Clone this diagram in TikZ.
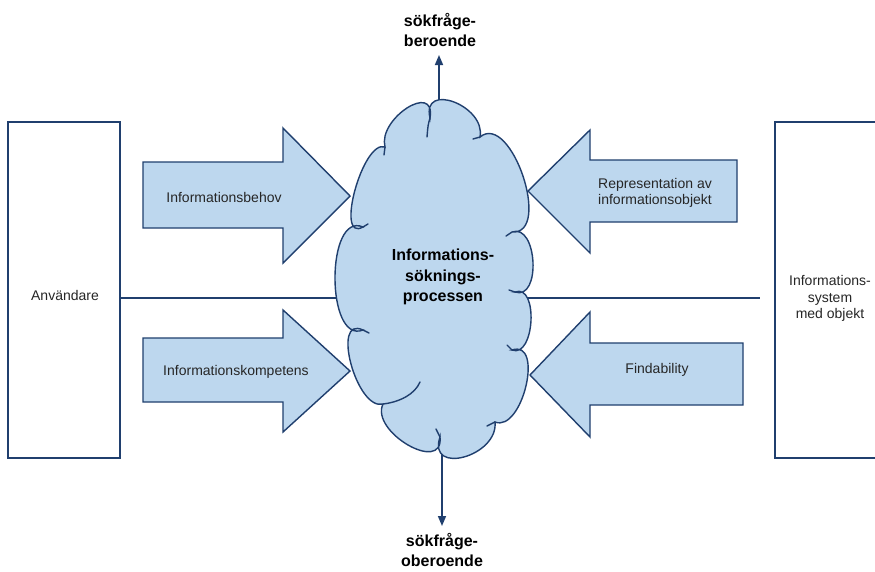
\documentclass[tikz,border=0pt]{standalone}
\usepackage{fontspec}
\setmainfont{Liberation Sans}
\usetikzlibrary{calc,arrows.meta}
\definecolor{cfill}{HTML}{BDD7EE}
\definecolor{cline}{HTML}{203F6E}
\definecolor{ctext}{HTML}{262626}
\newcommand\cbmp[3]{.. controls ($0.4833*(#1)+1.3333*(#2)-0.8167*(#3)$) and ($0.4833*(#3)+1.3333*(#2)-0.8167*(#1)$) .. (#3)}
\begin{document}
\begin{tikzpicture}[x=1pt,y=-1pt,
 box/.style={draw=cline, fill=white, line width=1.4pt, minimum width=112pt, minimum height=336pt, inner sep=0pt},
 blockarrow/.style={draw=cline, fill=cfill, line width=1.4pt, line join=miter},
 lbl/.style={font=\fontsize{14}{16.5}\selectfont, text=ctext, align=center, inner sep=0pt},
 boldlbl/.style={font=\fontsize{16}{20.5}\selectfont\bfseries, text=black, align=center, inner sep=0pt},
 conn/.style={draw=cline, line width=1.4pt},
 arr/.style={draw=cline, line width=1.6pt, -{Triangle[length=10pt,width=8pt]}},
 cloudshape/.style={draw=cline, fill=cfill, line width=1.4pt, line join=miter},
 tail/.style={draw=cline, line width=1.4pt, line cap=round}]
\fill[white] (0,0) rectangle (875,571);
\useasboundingbox (0,0) rectangle (875,571);

% side boxes
\node[box] (userbox) at (64,290) {};
\node[lbl] (user) at (65,295) {Användare};
\node[box] (sysbox) at (831,290) {};
\node[lbl] (sys) at (830,298.5) {Informations-\\system\\med objekt};

% cloud geometry
\coordinate (n1) at (385,147);
\coordinate (n2) at (430,118);
\coordinate (n3) at (480,137);
\coordinate (n4) at (512,232);
\coordinate (n5) at (515,292);
\coordinate (n6) at (512,350);
\coordinate (n7) at (495,422);
\coordinate (n8) at (440,437);
\coordinate (n9) at (383,404);
\coordinate (n10) at (363,330);
\coordinate (n11) at (363,227);
\coordinate (p1) at (355,190);
\coordinate (p2) at (407,108);
\coordinate (p3) at (454,102);
\coordinate (p4) at (523,176);
\coordinate (p5) at (533,262);
\coordinate (p6) at (531,321);
\coordinate (p7) at (526,386);
\coordinate (p8) at (464,457);
\coordinate (p9) at (408,445);
\coordinate (p10) at (351,364);
\coordinate (p11) at (335,278);

% horizontal connectors
\coordinate (cl) at (360,298);
\coordinate (cr) at (515,298);
\coordinate (rl) at (760,298);
\draw[conn] (userbox.east |- cl) -- (cl);
\draw[conn] (cr) -- (rl);

% vertical arrows
\coordinate (ctop) at (439,112);
\coordinate (uptip) at (439,55);
\coordinate (cbot) at (442,448);
\coordinate (dntip) at (442,526);
\draw[arr] (ctop) -- (uptip);
\draw[arr] (cbot) -- (dntip);
\node[boldlbl] (dep) at (440,30) {sökfråge-\\beroende};
\node[boldlbl] (indep) at (442,550) {sökfråge-\\oberoende};

% cloud
\path[cloudshape] (n11) \cbmp{n11}{p1}{n1} \cbmp{n1}{p2}{n2} \cbmp{n2}{p3}{n3}
  \cbmp{n3}{p4}{n4} \cbmp{n4}{p5}{n5} \cbmp{n5}{p6}{n6} \cbmp{n6}{p7}{n7}
  \cbmp{n7}{p8}{n8} \cbmp{n8}{p9}{n9} \cbmp{n9}{p10}{n10} \cbmp{n10}{p11}{n11} -- cycle;
% inner tails of the cloud puffs
\draw[tail] (n2) .. controls (428,125) .. (427,137);
\draw[tail] (n3) -- (473,139);
\draw[tail] (n4) -- (506,236);
\draw[tail] (n5) -- (509,290);
\draw[tail] (n6) -- (507,345);
\draw[tail] (n7) -- (487,426);
\draw[tail] (n8) -- (436,429);
\draw[tail] (n9) .. controls (400,402) and (415,394) .. (420,382);
\draw[tail] (n10) -- (369,333);
\draw[tail] (n11) -- (368,224);
\draw[tail] (n1) -- (384,155);
\node[boldlbl] (proc) at (443,277) {Informations-\\söknings-\\processen};

% block arrows
\path[blockarrow] (143,162) -- (283,162) -- (283,128) -- (350,196) -- (283,263) -- (283,228) -- (143,228) -- cycle;
\node[lbl] (need) at (224,197) {Informationsbehov};
\path[blockarrow] (143,338) -- (283,338) -- (283,310) -- (350,371) -- (283,432) -- (283,402) -- (143,402) -- cycle;
\node[lbl] (komp) at (236,372) {Informationskompetens};
\path[blockarrow] (737,160) -- (590,160) -- (590,130) -- (528,191) -- (590,253) -- (590,222) -- (737,222) -- cycle;
\node[lbl] (repr) at (655,193) {Representation av\\informationsobjekt};
\path[blockarrow] (743,343) -- (590,343) -- (590,312) -- (530,375) -- (590,437) -- (590,405) -- (743,405) -- cycle;
\node[lbl] (find) at (657,370) {Findability};
\end{tikzpicture}
\end{document}
